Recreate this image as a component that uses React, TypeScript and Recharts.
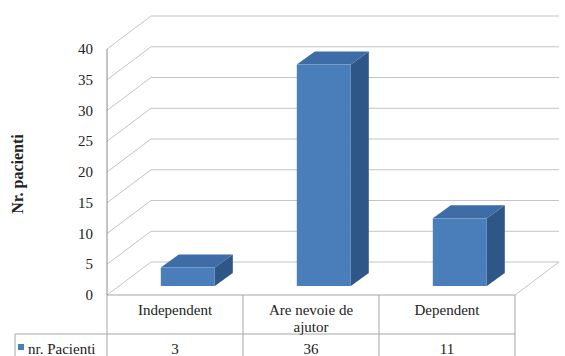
import { BarChart, Bar, XAxis, YAxis, CartesianGrid } from "recharts";

// categories and values
const categories = ["Independent", "Are nevoie de ajutor", "Dependent"];
const headerLines = [["Independent"], ["Are nevoie de", "ajutor"], ["Dependent"]];
const pacienti = [3, 36, 11];
const yTicks = [0, 5, 10, 15, 20, 25, 30, 35, 40];
const seriesName = "nr. Pacienti";

const data = categories.map((c, i) => ({ name: c, value: pacienti[i] }));

const W = 565;
const H = 356;
const MARGIN = { top: 49, right: 50, bottom: 0, left: 47 };
const YAXIS_W = 60;
const XAXIS_H = 61;
const PLOT_LEFT = MARGIN.left + YAXIS_W;
const PLOT_RIGHT = W - MARGIN.right;
const PLOT_BOTTOM = H - XAXIS_H;
const COL_W = (PLOT_RIGHT - PLOT_LEFT) / categories.length;

// perspective offset of the back wall
const WALL_DX = 44;
const WALL_DY = -33;
// bars sit a bit behind the front plane, with their own depth
const BAR_DX = 13;
const BAR_DY = -9;
const DEPTH_X = 18;
const DEPTH_Y = -13;

const FONT = "Liberation Serif, DejaVu Serif, serif";
const textStyle = { fontFamily: FONT };
const FS = 15;
const GRID = "#c4c4c4";
const TABLE = "#a6a6a6";
const FRONT = "#4a7ebb";
const SIDE = "#2e5687";
const TOP = "#3d6ca6";

function GridLine(props: any) {
  const { x1, x2, y1 } = props;
  const by = y1 + WALL_DY;
  const isFloor = Math.abs(y1 - PLOT_BOTTOM) < 1;
  return (
    <g key={props.key}>
      <line x1={x1} y1={y1} x2={x1 + WALL_DX} y2={by} stroke={GRID} strokeWidth={1} />
      <line x1={x1 + WALL_DX} y1={by} x2={x2 + WALL_DX} y2={by} stroke={GRID} strokeWidth={1} />
      {isFloor && (
        <line x1={x2} y1={y1} x2={x2 + WALL_DX} y2={by} stroke={GRID} strokeWidth={1} />
      )}
    </g>
  );
}

function Bar3D(props: any) {
  const { x, y, width, height } = props;
  if (!width || height == null) return null;
  const fx = x + BAR_DX;
  const fy = y + BAR_DY;
  const top = `${fx},${fy} ${fx + DEPTH_X},${fy + DEPTH_Y} ${fx + width + DEPTH_X},${fy + DEPTH_Y} ${fx + width},${fy}`;
  const side = `${fx + width},${fy} ${fx + width + DEPTH_X},${fy + DEPTH_Y} ${fx + width + DEPTH_X},${fy + height + DEPTH_Y} ${fx + width},${fy + height}`;
  return (
    <g>
      <polygon points={side} fill={SIDE} />
      <polygon points={top} fill={TOP} />
      <rect x={fx} y={fy} width={width} height={height} fill={FRONT} />
    </g>
  );
}

// y tick label in serif
function YTick(props: any) {
  const { x, y, payload } = props;
  return (
    <text x={x} y={y} dy={5} textAnchor="end" style={textStyle} fontSize={FS} fill="#222">
      {payload.value}
    </text>
  );
}

// data table under the plot: header row with categories, one row of values
function TableTick(props: any) {
  const { x, index } = props;
  const left = x - COL_W / 2;
  const right = x + COL_W / 2;
  const rowY = PLOT_BOTTOM + 39;
  const lines = headerLines[index] || [];
  return (
    <g style={textStyle} fontSize={FS} fill="#222">
      {index === 0 && (
        <g>
          <line x1={left} y1={PLOT_BOTTOM} x2={left} y2={H} stroke={TABLE} />
          <line x1={15} y1={rowY} x2={left} y2={rowY} stroke={TABLE} />
          <line x1={15} y1={rowY} x2={15} y2={H} stroke={TABLE} />
          <rect x={18} y={344} width={6} height={6} fill={FRONT} />
          <text x={28} y={354} style={textStyle} fontSize={FS} fill="#222">{seriesName}</text>
        </g>
      )}
      <line x1={right} y1={PLOT_BOTTOM} x2={right} y2={H} stroke={TABLE} />
      <line x1={left} y1={rowY} x2={right} y2={rowY} stroke={TABLE} />
      {lines.map((t: string, i: number) => (
        <text key={i} x={x} y={PLOT_BOTTOM + 20 + i * 17} textAnchor="middle" style={textStyle}>
          {t}
        </text>
      ))}
      <text x={x} y={354} textAnchor="middle" style={textStyle}>
        {pacienti[index]}
      </text>
    </g>
  );
}

function YLabel() {
  return (
    <text
      x={17}
      y={174}
      transform="rotate(-90 17 174)"
      textAnchor="middle"
      dominantBaseline="central"
      style={textStyle}
      fontSize={16}
      fontWeight="bold"
      fill="#222"
    >
      Nr. pacienti
    </text>
  );
}

export default function App() {
  return (
    <div
      style={{ position: "absolute", left: 0, top: 0, width: W, height: H, background: "#fff", fontFamily: FONT }}
    >
      <BarChart width={W} height={H} data={data} margin={MARGIN} barCategoryGap="30%" style={textStyle}>
        <CartesianGrid vertical={false} horizontal={GridLine} />
        <YAxis
          domain={[0, 40]}
          ticks={yTicks}
          width={YAXIS_W}
          tickLine={false}
          tickSize={0}
          tickMargin={14}
          axisLine={{ stroke: "#8a8a8a" }}
          tick={YTick}
          interval={0}
        />
        <XAxis
          dataKey="name"
          height={XAXIS_H}
          tickLine={false}
          axisLine={{ stroke: TABLE }}
          tick={TableTick}
          interval={0}
        />
        <Bar dataKey="value" shape={Bar3D} isAnimationActive={false} />
        <YLabel />
      </BarChart>
    </div>
  );
}
